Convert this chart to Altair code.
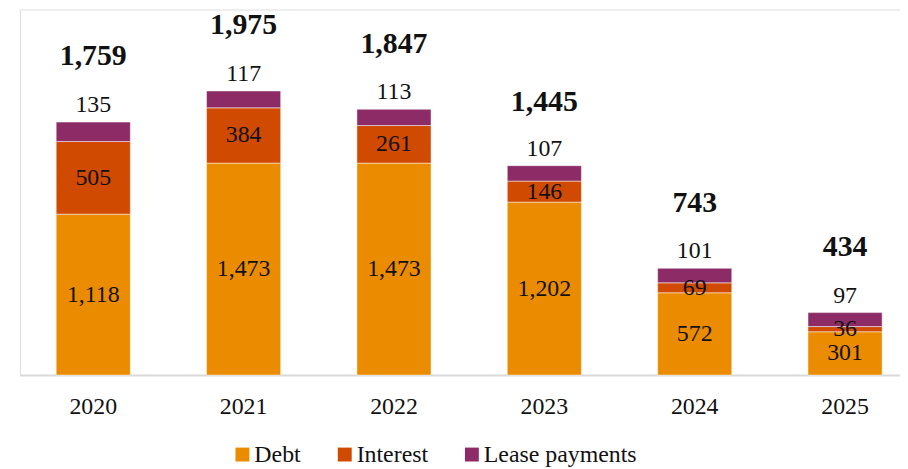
import altair as alt
import pandas as pd

years = ["2020", "2021", "2022", "2023", "2024", "2025"]
debt = [1118, 1473, 1473, 1202, 572, 301]
interest = [505, 384, 261, 146, 69, 36]
lease = [135, 117, 113, 107, 101, 97]
totals = [1759, 1975, 1847, 1445, 743, 434]
series = ["Debt", "Interest", "Lease payments"]
colors = ["#EB8C00", "#D04A02", "#8C2B66"]

FONT = "Liberation Serif"

rows = []
for i, yr in enumerate(years):
    for k, (s, vals) in enumerate(zip(series, [debt, interest, lease])):
        rows.append({"year": yr, "series": s, "value": vals[i], "order": k,
                     "label": f"{vals[i]:,}"})
df = pd.DataFrame(rows)
tot_df = pd.DataFrame({"year": years, "total": totals,
                       "label": [f"{t:,}" for t in totals]})

xscale = alt.Scale(domain=years, paddingInner=0.507, paddingOuter=0.18, align=0.67)
yscale = alt.Scale(domain=[0, 2540], nice=False, zero=True)

x_enc = alt.X("year:N", scale=xscale, sort=years, title=None,
              axis=alt.Axis(labelAngle=0, ticks=False, domainColor="#d9d9d9",
                            domainWidth=2, labelFont=FONT, labelFontSize=24,
                            labelColor="#111111", labelPadding=20))

base = alt.Chart(df).transform_stack(
    stack="value", groupby=["year"], as_=["start", "end"],
    sort=[alt.SortField("order", order="ascending")]
).transform_calculate(mid="(datum.start + datum.end) / 2")

bars = base.mark_bar(stroke="#ffffff", strokeWidth=0.8, strokeOpacity=0.6).encode(
    x=x_enc,
    y=alt.Y("start:Q", scale=yscale, axis=None),
    y2="end:Q",
    color=alt.Color("series:N", sort=series,
                    scale=alt.Scale(domain=series, range=colors),
                    legend=alt.Legend(title=None, orient="none", direction="horizontal",
                                      legendX=212, legendY=436,
                                      symbolType="square", symbolSize=196,
                                      symbolStrokeWidth=0, labelFont=FONT,
                                      labelFontSize=24, labelColor="#111111",
                                      labelOffset=0, columnPadding=32)),
)

inner_labels = base.transform_filter(
    "datum.series != 'Lease payments'"
).mark_text(font=FONT, fontSize=24, color="#111111", baseline="middle").encode(
    x=alt.X("year:N", scale=xscale, sort=years),
    y=alt.Y("mid:Q", scale=yscale),
    text="label:N",
)

lease_labels = base.transform_filter(
    "datum.series == 'Lease payments'"
).mark_text(font=FONT, fontSize=24, color="#111111", baseline="middle", dy=-17).encode(
    x=alt.X("year:N", scale=xscale, sort=years),
    y=alt.Y("end:Q", scale=yscale),
    text="label:N",
)

total_labels = alt.Chart(tot_df).mark_text(
    font=FONT, fontSize=30, fontWeight="bold", color="#111111",
    baseline="middle", dy=-66
).encode(
    x=alt.X("year:N", scale=xscale, sort=years),
    y=alt.Y("total:Q", scale=yscale),
    text="label:N",
)

chart = alt.layer(bars, inner_labels, lease_labels, total_labels).properties(
    width=886, height=368,
    autosize=alt.AutoSizeParams(type="none"),
    padding={"left": 12, "top": 0, "right": 0, "bottom": 93},
).configure_view(stroke=None).configure(background="#ffffff")

chart.save("out.html", embed_options={"renderer": "svg", "actions": False})
